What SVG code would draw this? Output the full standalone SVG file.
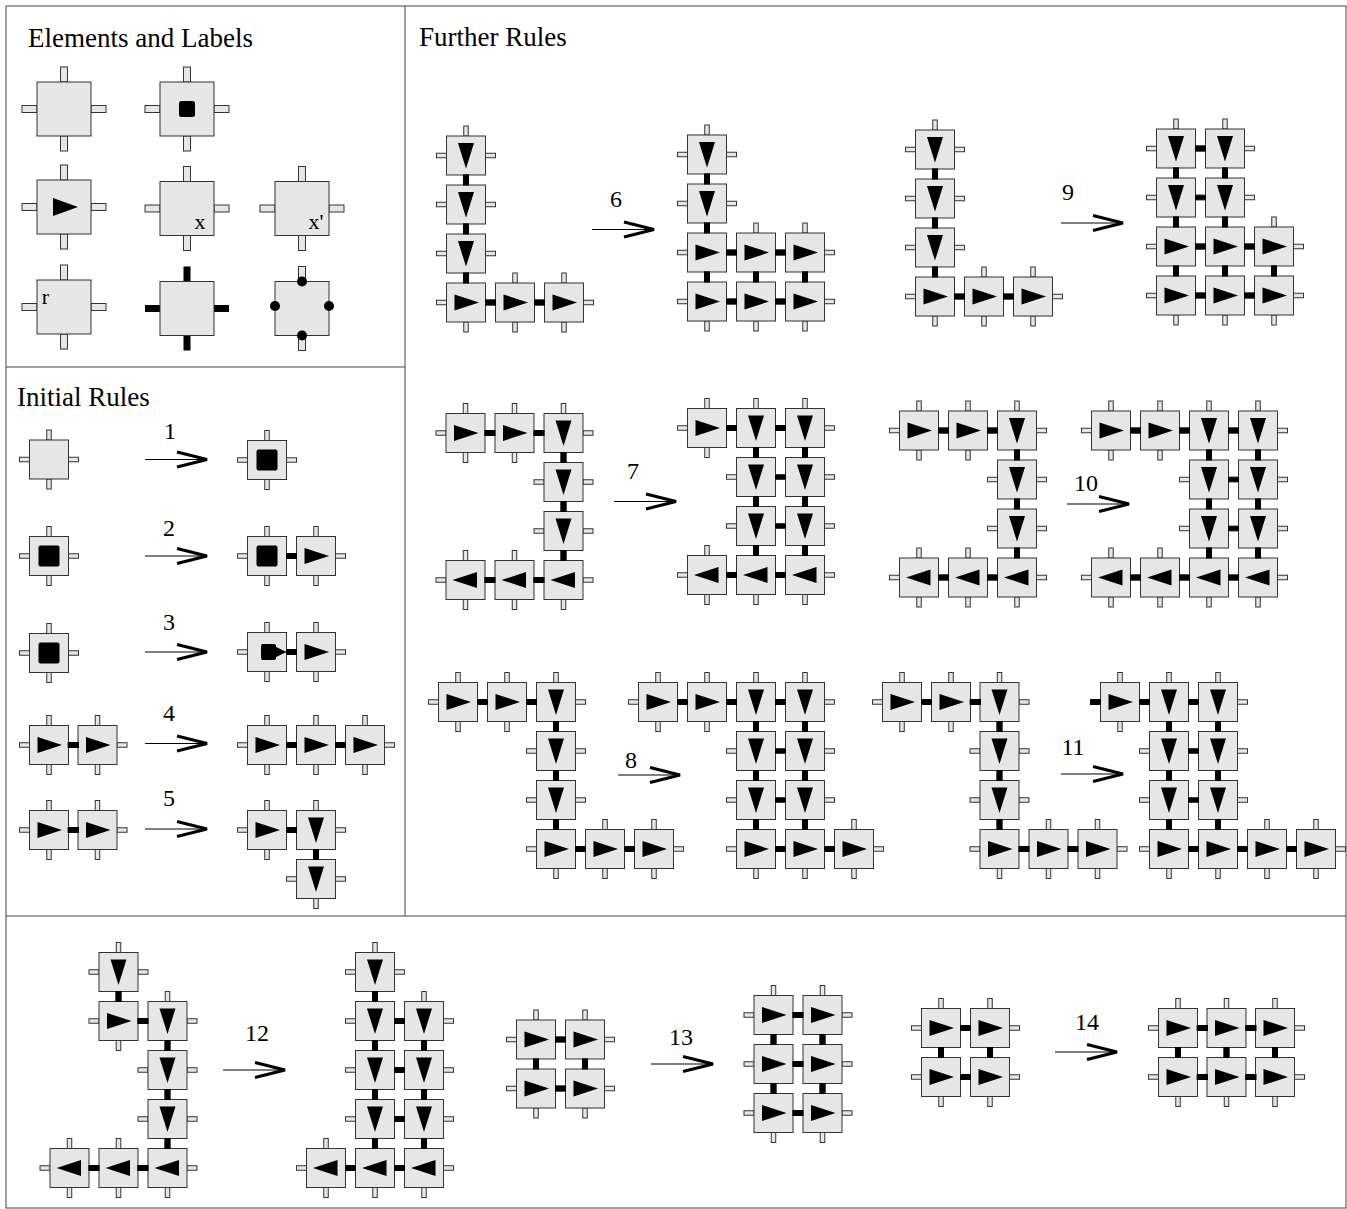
<svg xmlns="http://www.w3.org/2000/svg" width="1347" height="1209" viewBox="0 0 1347 1209">
<style>
.sq{fill:#e6e6e6;stroke:#333;stroke-width:1}
.st{fill:#e6e6e6;stroke:#333;stroke-width:1}
.fr{fill:none;stroke:#444;stroke-width:1}
.tt{font-family:"Liberation Serif",serif;font-size:27px;fill:#000}
.nm{font-family:"Liberation Serif",serif;font-size:24px;fill:#000;text-anchor:middle}
.lb{font-family:"Liberation Serif",serif;font-size:22px;fill:#000;text-anchor:middle}
</style>
<defs>
<g id="b">
<rect class="st" x="-2.25" y="-29.5" width="4.5" height="10"/>
<rect class="st" x="-2.25" y="19.5" width="4.5" height="10"/>
<rect class="st" x="-29.5" y="-2.25" width="10" height="4.5"/>
<rect class="st" x="19.5" y="-2.25" width="10" height="4.5"/>
<rect class="sq" x="-19.5" y="-19.5" width="39" height="39"/>
</g>
<g id="P"><use href="#b"/></g>
<g id="K"><use href="#b"/><rect x="-10.5" y="-10.5" width="21" height="21" rx="2"/></g>
<g id="R"><use href="#b"/><polygon points="-11.5,-8 13,0 -11.5,8"/></g>
<g id="D"><use href="#b"/><polygon points="-8,-12.5 8,-12.5 0,13"/></g>
<g id="L"><use href="#b"/><polygon points="11.5,-8 -13,0 11.5,8"/></g>
<g id="S"><use href="#b"/><rect x="-6" y="-8" width="15" height="16" rx="2"/><polygon points="7,-6 19.5,0 7,6"/></g>
<g id="bb">
<rect class="st" x="-3.5" y="-42" width="7" height="15"/>
<rect class="st" x="-3.5" y="27" width="7" height="15"/>
<rect class="st" x="-42" y="-3.5" width="15" height="7"/>
<rect class="st" x="27" y="-3.5" width="15" height="7"/>
<rect class="sq" x="-27" y="-27" width="54" height="54"/>
</g>
<rect id="h" x="19" y="-3" width="11" height="6"/>
<rect id="hs" x="19" y="-2.25" width="11" height="4.5"/>
<rect id="v" x="-3" y="19" width="6" height="11"/>
<g id="ar">
<line x1="0" y1="0" x2="58" y2="0" stroke="#000" stroke-width="1.2"/>
<polyline points="32,-7.5 62,0 32,7.5" fill="none" stroke="#000" stroke-width="3"/>
</g>
</defs>
<rect width="1347" height="1209" fill="#fff"/>
<g id="frame">
<rect class="fr" x="6" y="6" width="1340" height="1202"/>
<line class="fr" x1="405" y1="6" x2="405" y2="916"/>
<line class="fr" x1="6" y1="367" x2="405" y2="367"/>
<line class="fr" x1="6" y1="916" x2="1346" y2="916"/>
</g>
<g id="titles">
<text class="tt" x="28" y="47">Elements and Labels</text>
<text class="tt" x="17" y="406">Initial Rules</text>
<text class="tt" x="419" y="46">Further Rules</text>
</g>
<g id="elements">
<g id="e1"><use href="#bb" x="64" y="109"/></g>
<g id="e2"><use href="#bb" x="187" y="109"/><rect x="179" y="101" width="16" height="16" rx="2.5"/></g>
<g id="e3"><use href="#bb" x="64" y="207"/><polygon points="53,198 78,207 53,216"/></g>
<g id="e4"><use href="#bb" x="187" y="208.5"/><text class="lb" x="200" y="229">x</text></g>
<g id="e5"><use href="#bb" x="302" y="208.5"/><text class="lb" x="316" y="229">x'</text></g>
<g id="e6"><use href="#bb" x="64" y="307"/><text class="lb" x="45.5" y="304">r</text></g>
<g id="e7">
<rect x="183.5" y="266.5" width="7" height="15"/>
<rect x="183.5" y="335.5" width="7" height="15"/>
<rect x="145" y="305" width="15" height="7"/>
<rect x="214" y="305" width="15" height="7"/>
<rect class="sq" x="160" y="281.5" width="54" height="54"/>
</g>
<g id="e8">
<rect class="st" x="298.5" y="266.5" width="7" height="15"/>
<rect class="st" x="298.5" y="335.5" width="7" height="15"/>
<rect class="sq" x="275" y="281.5" width="54" height="54"/>
<circle cx="302" cy="281.5" r="5"/>
<circle cx="302" cy="335.5" r="5"/>
<circle cx="275" cy="306" r="5"/>
<circle cx="329" cy="306" r="5"/>
</g>
</g>
<g id="nodes">
<g id="r1a"><use href="#P" x="49" y="459.5"/></g>
<g id="r1b"><use href="#K" x="267" y="460"/></g>
<g id="r2a"><use href="#K" x="49" y="556"/></g>
<g id="r2b"><use href="#K" x="267" y="556"/></g>
<g id="r2c"><use href="#R" x="316" y="556"/></g>
<g id="r3a"><use href="#K" x="49" y="653"/></g>
<g id="r3b"><use href="#S" x="267" y="652"/></g>
<g id="r3c"><use href="#R" x="316" y="652"/></g>
<g id="r4a"><use href="#R" x="49" y="745"/></g>
<g id="r4b"><use href="#R" x="97.5" y="745"/></g>
<g id="r4c"><use href="#R" x="267" y="745"/></g>
<g id="r4d"><use href="#R" x="316" y="745"/></g>
<g id="r4e"><use href="#R" x="365" y="745"/></g>
<g id="r5a"><use href="#R" x="49" y="830"/></g>
<g id="r5b"><use href="#R" x="97.5" y="830"/></g>
<g id="r5c"><use href="#R" x="267" y="830"/></g>
<g id="r5d"><use href="#D" x="316" y="830"/></g>
<g id="r5e"><use href="#D" x="316" y="879"/></g>

<g id="r6a"><use href="#D" x="466" y="155.5"/></g>
<g id="r6b"><use href="#D" x="466" y="204.5"/></g>
<g id="r6c"><use href="#D" x="466" y="253.5"/></g>
<g id="r6d"><use href="#R" x="466" y="302.5"/></g>
<g id="r6e"><use href="#R" x="515" y="302.5"/></g>
<g id="r6f"><use href="#R" x="564" y="302.5"/></g>
<g id="r6g"><use href="#D" x="707" y="154.5"/></g>
<g id="r6h"><use href="#D" x="707" y="203.5"/></g>
<g id="r6i"><use href="#R" x="707" y="252.5"/></g>
<g id="r6j"><use href="#R" x="756" y="252.5"/></g>
<g id="r6k"><use href="#R" x="805" y="252.5"/></g>
<g id="r6l"><use href="#R" x="707" y="301.5"/></g>
<g id="r6m"><use href="#R" x="756" y="301.5"/></g>
<g id="r6n"><use href="#R" x="805" y="301.5"/></g>

<g id="r9a"><use href="#D" x="935" y="149.5"/></g>
<g id="r9b"><use href="#D" x="935" y="198.5"/></g>
<g id="r9c"><use href="#D" x="935" y="247.5"/></g>
<g id="r9d"><use href="#R" x="935" y="296.5"/></g>
<g id="r9e"><use href="#R" x="984" y="296.5"/></g>
<g id="r9f"><use href="#R" x="1033" y="296.5"/></g>
<g id="r9g"><use href="#D" x="1176" y="148.5"/></g>
<g id="r9h"><use href="#D" x="1225" y="148.5"/></g>
<g id="r9i"><use href="#D" x="1176" y="197.5"/></g>
<g id="r9j"><use href="#D" x="1225" y="197.5"/></g>
<g id="r9k"><use href="#R" x="1176" y="246.5"/></g>
<g id="r9l"><use href="#R" x="1225" y="246.5"/></g>
<g id="r9m"><use href="#R" x="1274" y="246.5"/></g>
<g id="r9n"><use href="#R" x="1176" y="295.5"/></g>
<g id="r9o"><use href="#R" x="1225" y="295.5"/></g>
<g id="r9p"><use href="#R" x="1274" y="295.5"/></g>

<g id="r7a"><use href="#R" x="465.5" y="433"/></g>
<g id="r7b"><use href="#R" x="514.5" y="433"/></g>
<g id="r7c"><use href="#D" x="563.5" y="433"/></g>
<g id="r7d"><use href="#D" x="563.5" y="482"/></g>
<g id="r7e"><use href="#D" x="563.5" y="531"/></g>
<g id="r7f"><use href="#L" x="465.5" y="580"/></g>
<g id="r7g"><use href="#L" x="514.5" y="580"/></g>
<g id="r7h"><use href="#L" x="563.5" y="580"/></g>
<g id="r7i"><use href="#R" x="707" y="428"/></g>
<g id="r7j"><use href="#D" x="756" y="428"/></g>
<g id="r7k"><use href="#D" x="805" y="428"/></g>
<g id="r7l"><use href="#D" x="756" y="477"/></g>
<g id="r7m"><use href="#D" x="805" y="477"/></g>
<g id="r7n"><use href="#D" x="756" y="526"/></g>
<g id="r7o"><use href="#D" x="805" y="526"/></g>
<g id="r7p"><use href="#L" x="707" y="575"/></g>
<g id="r7q"><use href="#L" x="756" y="575"/></g>
<g id="r7r"><use href="#L" x="805" y="575"/></g>

<g id="r10a"><use href="#R" x="919" y="430.5"/></g>
<g id="r10b"><use href="#R" x="968" y="430.5"/></g>
<g id="r10c"><use href="#D" x="1017" y="430.5"/></g>
<g id="r10d"><use href="#D" x="1017" y="479.5"/></g>
<g id="r10e"><use href="#D" x="1017" y="528.5"/></g>
<g id="r10f"><use href="#L" x="919" y="577.5"/></g>
<g id="r10g"><use href="#L" x="968" y="577.5"/></g>
<g id="r10h"><use href="#L" x="1017" y="577.5"/></g>
<g id="r10i"><use href="#R" x="1111" y="430.5"/></g>
<g id="r10j"><use href="#R" x="1160" y="430.5"/></g>
<g id="r10k"><use href="#D" x="1209" y="430.5"/></g>
<g id="r10l"><use href="#D" x="1258" y="430.5"/></g>
<g id="r10m"><use href="#D" x="1209" y="479.5"/></g>
<g id="r10n"><use href="#D" x="1258" y="479.5"/></g>
<g id="r10o"><use href="#D" x="1209" y="528.5"/></g>
<g id="r10p"><use href="#D" x="1258" y="528.5"/></g>
<g id="r10q"><use href="#L" x="1111" y="577.5"/></g>
<g id="r10r"><use href="#L" x="1160" y="577.5"/></g>
<g id="r10s"><use href="#L" x="1209" y="577.5"/></g>
<g id="r10t"><use href="#L" x="1258" y="577.5"/></g>

<g id="r8a"><use href="#R" x="458" y="702"/></g>
<g id="r8b"><use href="#R" x="507" y="702"/></g>
<g id="r8c"><use href="#D" x="556" y="702"/></g>
<g id="r8d"><use href="#D" x="556" y="751"/></g>
<g id="r8e"><use href="#D" x="556" y="800"/></g>
<g id="r8f"><use href="#R" x="556" y="849"/></g>
<g id="r8g"><use href="#R" x="605" y="849"/></g>
<g id="r8h"><use href="#R" x="654" y="849"/></g>
<g id="r8i"><use href="#R" x="658" y="702"/></g>
<g id="r8j"><use href="#R" x="707" y="702"/></g>
<g id="r8k"><use href="#D" x="756" y="702"/></g>
<g id="r8l"><use href="#D" x="805" y="702"/></g>
<g id="r8m"><use href="#D" x="756" y="751"/></g>
<g id="r8n"><use href="#D" x="805" y="751"/></g>
<g id="r8o"><use href="#D" x="756" y="800"/></g>
<g id="r8p"><use href="#D" x="805" y="800"/></g>
<g id="r8q"><use href="#R" x="756" y="849"/></g>
<g id="r8r"><use href="#R" x="805" y="849"/></g>
<g id="r8s"><use href="#R" x="854" y="849"/></g>

<g id="r11a"><use href="#R" x="902" y="702"/></g>
<g id="r11b"><use href="#R" x="951" y="702"/></g>
<g id="r11c"><use href="#D" x="999.5" y="702"/></g>
<g id="r11d"><use href="#D" x="999.5" y="751"/></g>
<g id="r11e"><use href="#D" x="999.5" y="800"/></g>
<g id="r11f"><use href="#R" x="999.5" y="849"/></g>
<g id="r11g"><use href="#R" x="1048.5" y="849"/></g>
<g id="r11h"><use href="#R" x="1097.5" y="849"/></g>
<g id="r11i"><use href="#R" x="1120" y="702"/></g>
<g id="r11j"><use href="#D" x="1169" y="702"/></g>
<g id="r11k"><use href="#D" x="1218" y="702"/></g>
<g id="r11l"><use href="#D" x="1169" y="751"/></g>
<g id="r11m"><use href="#D" x="1218" y="751"/></g>
<g id="r11n"><use href="#D" x="1169" y="800"/></g>
<g id="r11o"><use href="#D" x="1218" y="800"/></g>
<g id="r11p"><use href="#R" x="1169" y="849"/></g>
<g id="r11q"><use href="#R" x="1218" y="849"/></g>
<g id="r11r"><use href="#R" x="1267" y="849"/></g>
<g id="r11s"><use href="#R" x="1316" y="849"/></g>

<g id="r12a"><use href="#D" x="118.5" y="972"/></g>
<g id="r12b"><use href="#R" x="118.5" y="1021"/></g>
<g id="r12c"><use href="#D" x="167.5" y="1021"/></g>
<g id="r12d"><use href="#D" x="167.5" y="1070"/></g>
<g id="r12e"><use href="#D" x="167.5" y="1119"/></g>
<g id="r12f"><use href="#L" x="69.5" y="1168"/></g>
<g id="r12g"><use href="#L" x="118.5" y="1168"/></g>
<g id="r12h"><use href="#L" x="167.5" y="1168"/></g>
<g id="r12i"><use href="#D" x="375" y="972"/></g>
<g id="r12j"><use href="#D" x="375" y="1021"/></g>
<g id="r12k"><use href="#D" x="424" y="1021"/></g>
<g id="r12l"><use href="#D" x="375" y="1070"/></g>
<g id="r12m"><use href="#D" x="424" y="1070"/></g>
<g id="r12n"><use href="#D" x="375" y="1119"/></g>
<g id="r12o"><use href="#D" x="424" y="1119"/></g>
<g id="r12p"><use href="#L" x="326" y="1168"/></g>
<g id="r12q"><use href="#L" x="375" y="1168"/></g>
<g id="r12r"><use href="#L" x="424" y="1168"/></g>

<g id="r13a"><use href="#R" x="536" y="1039.5"/></g>
<g id="r13b"><use href="#R" x="585" y="1039.5"/></g>
<g id="r13c"><use href="#R" x="536" y="1088.5"/></g>
<g id="r13d"><use href="#R" x="585" y="1088.5"/></g>
<g id="r13e"><use href="#R" x="773.5" y="1015"/></g>
<g id="r13f"><use href="#R" x="822.5" y="1015"/></g>
<g id="r13g"><use href="#R" x="773.5" y="1064"/></g>
<g id="r13h"><use href="#R" x="822.5" y="1064"/></g>
<g id="r13i"><use href="#R" x="773.5" y="1113"/></g>
<g id="r13j"><use href="#R" x="822.5" y="1113"/></g>

<g id="r14a"><use href="#R" x="941" y="1028"/></g>
<g id="r14b"><use href="#R" x="990" y="1028"/></g>
<g id="r14c"><use href="#R" x="941" y="1077"/></g>
<g id="r14d"><use href="#R" x="990" y="1077"/></g>
<g id="r14e"><use href="#R" x="1178" y="1028"/></g>
<g id="r14f"><use href="#R" x="1226.5" y="1028"/></g>
<g id="r14g"><use href="#R" x="1275" y="1028"/></g>
<g id="r14h"><use href="#R" x="1178" y="1077"/></g>
<g id="r14i"><use href="#R" x="1226.5" y="1077"/></g>
<g id="r14j"><use href="#R" x="1275" y="1077"/></g>
</g>
<g id="bonds">
<use href="#h" x="267" y="556"/>
<use href="#h" x="267" y="652"/>
<use href="#h" x="49" y="745"/>
<use href="#h" x="267" y="745"/><use href="#h" x="316" y="745"/>
<use href="#h" x="49" y="830"/>
<use href="#h" x="267" y="830"/><use href="#v" x="316" y="830"/>

<use href="#v" x="466" y="155.5"/><use href="#v" x="466" y="204.5"/><use href="#v" x="466" y="253.5"/>
<use href="#h" x="466" y="302.5"/><use href="#h" x="515" y="302.5"/>
<use href="#v" x="707" y="154.5"/><use href="#v" x="707" y="203.5"/><use href="#v" x="707" y="252.5"/>
<use href="#v" x="756" y="252.5"/><use href="#v" x="805" y="252.5"/>
<use href="#h" x="707" y="252.5"/><use href="#h" x="756" y="252.5"/>
<use href="#h" x="707" y="301.5"/><use href="#h" x="756" y="301.5"/>

<use href="#v" x="935" y="149.5"/><use href="#v" x="935" y="198.5"/><use href="#v" x="935" y="247.5"/>
<use href="#h" x="935" y="296.5"/><use href="#h" x="984" y="296.5"/>
<use href="#h" x="1176" y="148.5"/><use href="#hs" x="1176" y="197.5"/>
<use href="#h" x="1176" y="246.5"/><use href="#h" x="1225" y="246.5"/>
<use href="#h" x="1176" y="295.5"/><use href="#h" x="1225" y="295.5"/>
<use href="#v" x="1176" y="148.5"/><use href="#v" x="1176" y="197.5"/><use href="#v" x="1176" y="246.5"/>
<use href="#v" x="1225" y="148.5"/><use href="#v" x="1225" y="197.5"/><use href="#v" x="1225" y="246.5"/>
<use href="#v" x="1274" y="246.5"/>

<use href="#h" x="465.5" y="433"/><use href="#h" x="514.5" y="433"/>
<use href="#h" x="465.5" y="580"/><use href="#h" x="514.5" y="580"/>
<use href="#v" x="563.5" y="433"/><use href="#v" x="563.5" y="482"/><use href="#v" x="563.5" y="531"/>
<use href="#h" x="707" y="428"/><use href="#h" x="756" y="428"/>
<use href="#hs" x="756" y="477"/><use href="#hs" x="756" y="526"/>
<use href="#h" x="707" y="575"/><use href="#h" x="756" y="575"/>
<use href="#v" x="756" y="428"/><use href="#v" x="756" y="477"/><use href="#v" x="756" y="526"/>
<use href="#v" x="805" y="428"/><use href="#v" x="805" y="477"/><use href="#v" x="805" y="526"/>

<use href="#h" x="919" y="430.5"/><use href="#h" x="968" y="430.5"/>
<use href="#h" x="919" y="577.5"/><use href="#h" x="968" y="577.5"/>
<use href="#v" x="1017" y="430.5"/><use href="#v" x="1017" y="479.5"/><use href="#v" x="1017" y="528.5"/>
<use href="#h" x="1111" y="430.5"/><use href="#h" x="1160" y="430.5"/><use href="#h" x="1209" y="430.5"/>
<use href="#hs" x="1209" y="479.5"/><use href="#hs" x="1209" y="528.5"/>
<use href="#h" x="1111" y="577.5"/><use href="#h" x="1160" y="577.5"/><use href="#h" x="1209" y="577.5"/>
<use href="#v" x="1209" y="430.5"/><use href="#v" x="1209" y="479.5"/><use href="#v" x="1209" y="528.5"/>
<use href="#v" x="1258" y="430.5"/><use href="#v" x="1258" y="479.5"/><use href="#v" x="1258" y="528.5"/>

<use href="#h" x="458" y="702"/><use href="#h" x="507" y="702"/>
<use href="#h" x="556" y="849"/><use href="#h" x="605" y="849"/>
<use href="#v" x="556" y="702"/><use href="#v" x="556" y="751"/><use href="#v" x="556" y="800"/>
<use href="#h" x="658" y="702"/><use href="#h" x="707" y="702"/><use href="#h" x="756" y="702"/>
<use href="#hs" x="756" y="751"/><use href="#hs" x="756" y="800"/>
<use href="#h" x="756" y="849"/><use href="#h" x="805" y="849"/>
<use href="#v" x="756" y="702"/><use href="#v" x="756" y="751"/><use href="#v" x="756" y="800"/>
<use href="#v" x="805" y="702"/><use href="#v" x="805" y="751"/><use href="#v" x="805" y="800"/>

<use href="#h" x="902" y="702"/><use href="#h" x="951" y="702"/>
<use href="#h" x="999.5" y="849"/><use href="#h" x="1048.5" y="849"/>
<use href="#v" x="999.5" y="702"/><use href="#v" x="999.5" y="751"/><use href="#v" x="999.5" y="800"/>
<use href="#h" x="1071" y="702"/><use href="#h" x="1120" y="702"/><use href="#h" x="1169" y="702"/>
<use href="#hs" x="1169" y="751"/><use href="#hs" x="1169" y="800"/>
<use href="#h" x="1169" y="849"/><use href="#h" x="1218" y="849"/><use href="#h" x="1267" y="849"/>
<use href="#v" x="1169" y="702"/><use href="#v" x="1169" y="751"/><use href="#v" x="1169" y="800"/>
<use href="#v" x="1218" y="702"/><use href="#v" x="1218" y="751"/><use href="#v" x="1218" y="800"/>

<use href="#v" x="118.5" y="972"/><use href="#h" x="118.5" y="1021"/>
<use href="#v" x="167.5" y="1021"/><use href="#v" x="167.5" y="1070"/><use href="#v" x="167.5" y="1119"/>
<use href="#h" x="69.5" y="1168"/><use href="#h" x="118.5" y="1168"/>
<use href="#v" x="375" y="972"/><use href="#v" x="375" y="1021"/><use href="#v" x="375" y="1070"/><use href="#v" x="375" y="1119"/>
<use href="#v" x="424" y="1021"/><use href="#v" x="424" y="1070"/><use href="#v" x="424" y="1119"/>
<use href="#h" x="375" y="1021"/><use href="#h" x="375" y="1070"/><use href="#h" x="375" y="1119"/>
<use href="#h" x="326" y="1168"/><use href="#h" x="375" y="1168"/>

<use href="#h" x="536" y="1039.5"/><use href="#h" x="536" y="1088.5"/>
<use href="#v" x="536" y="1039.5"/><use href="#v" x="585" y="1039.5"/>
<use href="#h" x="773.5" y="1015"/><use href="#h" x="773.5" y="1064"/><use href="#h" x="773.5" y="1113"/>
<use href="#v" x="773.5" y="1015"/><use href="#v" x="773.5" y="1064"/>
<use href="#v" x="822.5" y="1015"/><use href="#v" x="822.5" y="1064"/>

<use href="#h" x="941" y="1028"/><use href="#h" x="941" y="1077"/>
<use href="#v" x="941" y="1028"/><use href="#v" x="990" y="1028"/>
<use href="#h" x="1178" y="1028"/><use href="#h" x="1226.5" y="1028"/>
<use href="#h" x="1178" y="1077"/><use href="#h" x="1226.5" y="1077"/>
<use href="#v" x="1178" y="1028"/><use href="#v" x="1226.5" y="1028"/><use href="#v" x="1275" y="1028"/>
</g>
<g id="arrows">
<use href="#ar" x="145" y="459.5"/><text class="nm" x="170" y="439">1</text>
<use href="#ar" x="145" y="556"/><text class="nm" x="169" y="536">2</text>
<use href="#ar" x="145" y="652"/><text class="nm" x="169" y="630">3</text>
<use href="#ar" x="145" y="743.5"/><text class="nm" x="169" y="721">4</text>
<use href="#ar" x="145" y="829"/><text class="nm" x="169" y="806">5</text>
<use href="#ar" x="592" y="229.5"/><text class="nm" x="616" y="207">6</text>
<use href="#ar" x="1061" y="223"/><text class="nm" x="1068" y="200">9</text>
<use href="#ar" x="614" y="501.5"/><text class="nm" x="633" y="479">7</text>
<use href="#ar" x="1067" y="504"/><text class="nm" x="1086" y="491">10</text>
<use href="#ar" x="618" y="775"/><text class="nm" x="631" y="768">8</text>
<use href="#ar" x="1061" y="774"/><text class="nm" x="1073" y="755">11</text>
<use href="#ar" x="223" y="1070"/><text class="nm" x="257" y="1041">12</text>
<use href="#ar" x="651" y="1064"/><text class="nm" x="681" y="1045">13</text>
<use href="#ar" x="1055" y="1052"/><text class="nm" x="1087" y="1030">14</text>
</g>
</svg>
